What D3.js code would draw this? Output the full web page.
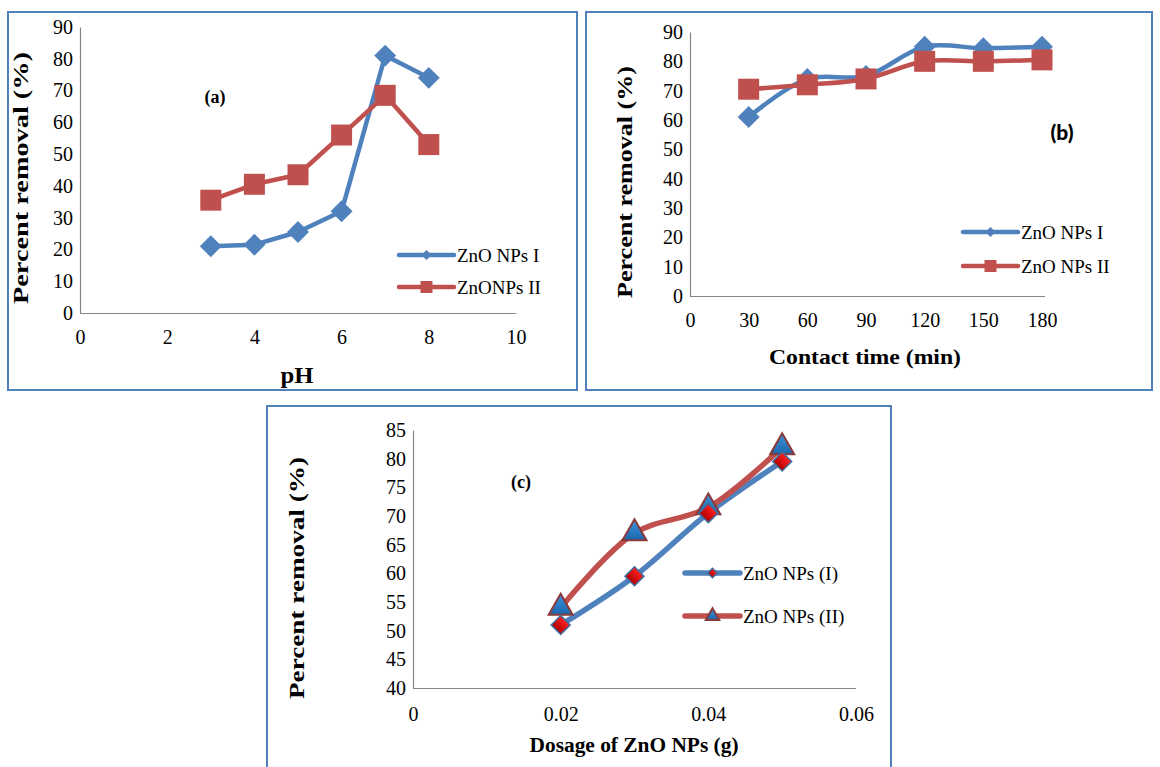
<!DOCTYPE html>
<html>
<head>
<meta charset="utf-8">
<script src="https://cdn.jsdelivr.net/npm/d3@7"></script>
<style>
  body { margin: 0; background: #fff; }
  svg { font-family: "Liberation Serif", "Times New Roman", serif; }
  .tick text { fill: #000; }
</style>
</head>
<body>
<div id="chart"></div>
<script>
// Panel (a) - effect of pH
var phValues = [3, 4, 5, 6, 7, 8];
var phSeries1 = [21, 21.5, 25.5, 32, 81, 74];
var phSeries2 = [35.5, 40.5, 43.5, 56, 68.5, 53];
var phXTicks = [0, 2, 4, 6, 8, 10];
var phYTicks = [0, 10, 20, 30, 40, 50, 60, 70, 80, 90];

// Panel (b) - contact time
var timeValues = [30, 60, 90, 120, 150, 180];
var timeSeries1 = [61, 74, 75, 85, 84.5, 85];
var timeSeries2 = [70.5, 72, 74, 80, 80, 80.5];
var timeXTicks = [0, 30, 60, 90, 120, 150, 180];
var timeYTicks = [0, 10, 20, 30, 40, 50, 60, 70, 80, 90];

// Panel (c) - dosage
var doseValues = [0.02, 0.03, 0.04, 0.05];
var doseSeries1 = [51, 59.5, 70.5, 79.5];
var doseSeries2 = [54, 67, 71.5, 82];
var doseXTicks = [0, 0.02, 0.04, 0.06];
var doseYTicks = [40, 45, 50, 55, 60, 65, 70, 75, 80, 85];

var blue = "#4f81bd";
var red = "#c0504d";

var svg = d3.select("#chart")
  .append("svg")
  .attr("width", 1160)
  .attr("height", 767);

var defs = svg.append("defs");
var g1 = defs.append("linearGradient").attr("id", "triFill").attr("x1", 0).attr("y1", 0).attr("x2", 0).attr("y2", 1);
g1.append("stop").attr("offset", "0%").attr("stop-color", "#3d94dc");
g1.append("stop").attr("offset", "100%").attr("stop-color", "#1b66ad");
var g2 = defs.append("linearGradient").attr("id", "diaFill").attr("x1", 0).attr("y1", 0).attr("x2", 0).attr("y2", 1);
g2.append("stop").attr("offset", "0%").attr("stop-color", "#ff2020");
g2.append("stop").attr("offset", "100%").attr("stop-color", "#b00000");

function symbolPath(type, size) {
  return d3.symbol().type(type).size(size)();
}

function drawPanel(p) {
  // frame
  svg.append("rect")
    .attr("x", p.frame[0]).attr("y", p.frame[1])
    .attr("width", p.frame[2]).attr("height", p.frame[3])
    .attr("fill", "none").attr("stroke", blue).attr("stroke-width", 2);

  var g = svg.append("g").attr("transform", `translate(${p.left}, ${p.top})`);

  var x = d3.scaleLinear().domain(p.xDomain).range([0, p.width]);
  var y = d3.scaleLinear().domain(p.yDomain).range([p.height, 0]);

  var xAxis = g.append("g")
    .attr("transform", `translate(0, ${p.height})`)
    .call(d3.axisBottom(x).tickValues(p.xTicks).tickSize(0).tickPadding(p.xPad).tickFormat(p.xFormat));
  var yAxis = g.append("g")
    .call(d3.axisLeft(y).tickValues(p.yTicks).tickSize(0).tickPadding(7));

  [xAxis, yAxis].forEach(function(a) {
    a.select(".domain").attr("stroke", "#868686").attr("stroke-width", 1.2);
    a.selectAll("text").attr("font-size", p.tickSize).attr("font-family", "Liberation Serif");
  });
  xAxis.select(".domain").attr("d", `M0,0.5H${p.axisEnd}`);

  // axis titles, stretched to the width they have in the picture
  g.append("text")
    .attr("x", p.xTitlePos[0]).attr("y", p.xTitlePos[1])
    .attr("text-anchor", "middle")
    .attr("font-weight", "bold").attr("font-size", p.xTitleSize)
    .attr("textLength", p.xTitleLen).attr("lengthAdjust", "spacingAndGlyphs")
    .text(p.xTitle);
  g.append("text")
    .attr("transform", `translate(${p.yTitlePos[0]}, ${p.yTitlePos[1]}) rotate(-90)`)
    .attr("text-anchor", "middle")
    .attr("font-weight", "bold").attr("font-size", 20)
    .attr("textLength", p.yTitleLen).attr("lengthAdjust", "spacingAndGlyphs")
    .text("Percent removal (%)");

  // panel tag
  g.append("text")
    .attr("x", p.tagPos[0]).attr("y", p.tagPos[1])
    .attr("text-anchor", "middle")
    .attr("font-weight", p.tagWeight).attr("font-size", p.tagSize)
    .attr("font-family", p.tagFont)
    .text(p.tag);

  // lines first, then markers on top
  p.series.forEach(function(s) {
    var pts = p.xValues.map(function(v, i) { return [v, s.values[i]]; });
    var line = d3.line()
      .x(d => x(d[0]))
      .y(d => y(d[1]))
      .curve(s.curve);
    g.append("path")
      .datum(pts)
      .attr("d", line)
      .attr("fill", "none")
      .attr("stroke", s.color)
      .attr("stroke-width", s.width)
      .attr("stroke-linejoin", "round")
      .attr("stroke-linecap", "round");
  });

  p.series.slice().sort((a, b) => a.order - b.order).forEach(function(s) {
    var pts = p.xValues.map(function(v, i) { return [v, s.values[i]]; });
    g.selectAll(null)
      .data(pts)
      .enter()
      .append("path")
      .attr("transform", d => `translate(${x(d[0])}, ${y(d[1])}) rotate(${s.rotate})`)
      .attr("d", symbolPath(s.symbol, s.size))
      .attr("fill", s.fill)
      .attr("stroke", s.stroke)
      .attr("stroke-width", s.strokeWidth);
  });

  // legend
  p.series.forEach(function(s) {
    var ly = s.legendY;
    g.append("line")
      .attr("x1", p.legendX).attr("x2", p.legendX + p.legendLen)
      .attr("y1", ly).attr("y2", ly)
      .attr("stroke", s.color).attr("stroke-width", s.width)
      .attr("stroke-linecap", "round");
    g.append("path")
      .attr("transform", `translate(${p.legendX + p.legendLen / 2}, ${ly}) rotate(${s.rotate})`)
      .attr("d", symbolPath(s.symbol, s.legendSize))
      .attr("fill", s.fill)
      .attr("stroke", s.stroke)
      .attr("stroke-width", s.strokeWidth);
    g.append("text")
      .attr("x", p.legendX + p.legendLen + 3).attr("y", ly)
      .attr("dy", "0.35em")
      .attr("font-size", p.legendSize)
      .text(s.name);
  });
}

// Panel (a)
drawPanel({
  frame: [8, 12, 569, 378],
  left: 80, top: 27, width: 436, height: 286,
  xDomain: [0, 10], yDomain: [0, 90],
  xTicks: phXTicks, yTicks: phYTicks, xPad: 17, xFormat: d3.format("d"),
  axisEnd: 436, tickSize: 20,
  xTitle: "pH", xTitlePos: [217, 356], xTitleSize: 24, xTitleLen: 33,
  yTitlePos: [-52, 151], yTitleLen: 252,
  tag: "(a)", tagPos: [135, 76], tagFont: "Liberation Serif", tagSize: 18, tagWeight: "bold",
  xValues: phValues,
  legendX: 319, legendLen: 55, legendSize: 19,
  series: [
    { name: "ZnO NPs I", values: phSeries1, color: blue, width: 4.5, curve: d3.curveLinear, order: 1,
      symbol: d3.symbolSquare, rotate: 45, size: 240, fill: blue, stroke: "none", strokeWidth: 0, legendSize: 50, legendY: 228 },
    { name: "ZnONPs II", values: phSeries2, color: red, width: 4.5, curve: d3.curveLinear, order: 0,
      symbol: d3.symbolSquare, rotate: 0, size: 441, fill: red, stroke: "none", strokeWidth: 0, legendSize: 144, legendY: 260 }
  ]
});

// Panel (b)
drawPanel({
  frame: [586, 12, 566, 378],
  left: 690, top: 32, width: 352, height: 264,
  xDomain: [0, 180], yDomain: [0, 90],
  xTicks: timeXTicks, yTicks: timeYTicks, xPad: 17, xFormat: d3.format("d"),
  axisEnd: 355, tickSize: 20,
  xTitle: "Contact time (min)", xTitlePos: [175, 332], xTitleSize: 21, xTitleLen: 192,
  yTitlePos: [-58, 150], yTitleLen: 232,
  tag: "(b)", tagPos: [372, 108], tagFont: "Lato", tagSize: 21, tagWeight: 900,
  xValues: timeValues,
  legendX: 273, legendLen: 55, legendSize: 19,
  series: [
    { name: "ZnO NPs I", values: timeSeries1, color: blue, width: 4.5, curve: d3.curveCatmullRom, order: 0,
      symbol: d3.symbolSquare, rotate: 45, size: 240, fill: blue, stroke: "none", strokeWidth: 0, legendSize: 50, legendY: 200 },
    { name: "ZnO NPs II", values: timeSeries2, color: red, width: 4.5, curve: d3.curveCatmullRom, order: 1,
      symbol: d3.symbolSquare, rotate: 0, size: 441, fill: red, stroke: "none", strokeWidth: 0, legendSize: 144, legendY: 234 }
  ]
});

// Panel (c)
drawPanel({
  frame: [267, 406, 624, 370],
  left: 413, top: 430, width: 443, height: 258,
  xDomain: [0, 0.06], yDomain: [40, 85],
  xTicks: doseXTicks, yTicks: doseYTicks, xPad: 19, xFormat: d => d === 0 ? "0" : d3.format(".2f")(d),
  axisEnd: 443, tickSize: 20,
  xTitle: "Dosage of ZnO NPs (g)", xTitlePos: [221, 322], xTitleSize: 20, xTitleLen: 209,
  yTitlePos: [-109, 148], yTitleLen: 242,
  tag: "(c)", tagPos: [108, 58], tagFont: "Liberation Serif", tagSize: 18, tagWeight: "bold",
  xValues: doseValues,
  legendX: 272, legendLen: 55, legendSize: 19,
  series: [
    { name: "ZnO NPs (I)", values: doseSeries1, color: blue, width: 5.5, curve: d3.curveCatmullRom, order: 1,
      symbol: d3.symbolSquare, rotate: 45, size: 180, fill: "url(#diaFill)", stroke: "#3f6d9e", strokeWidth: 1.5, legendSize: 45, legendY: 143 },
    { name: "ZnO NPs (II)", values: doseSeries2, color: red, width: 5.5, curve: d3.curveCatmullRom, order: 0,
      symbol: d3.symbolTriangle, rotate: 0, size: 250, fill: "url(#triFill)", stroke: "#8b3a3a", strokeWidth: 2, legendSize: 80, legendY: 186 }
  ]
});
</script>
</body>
</html>
